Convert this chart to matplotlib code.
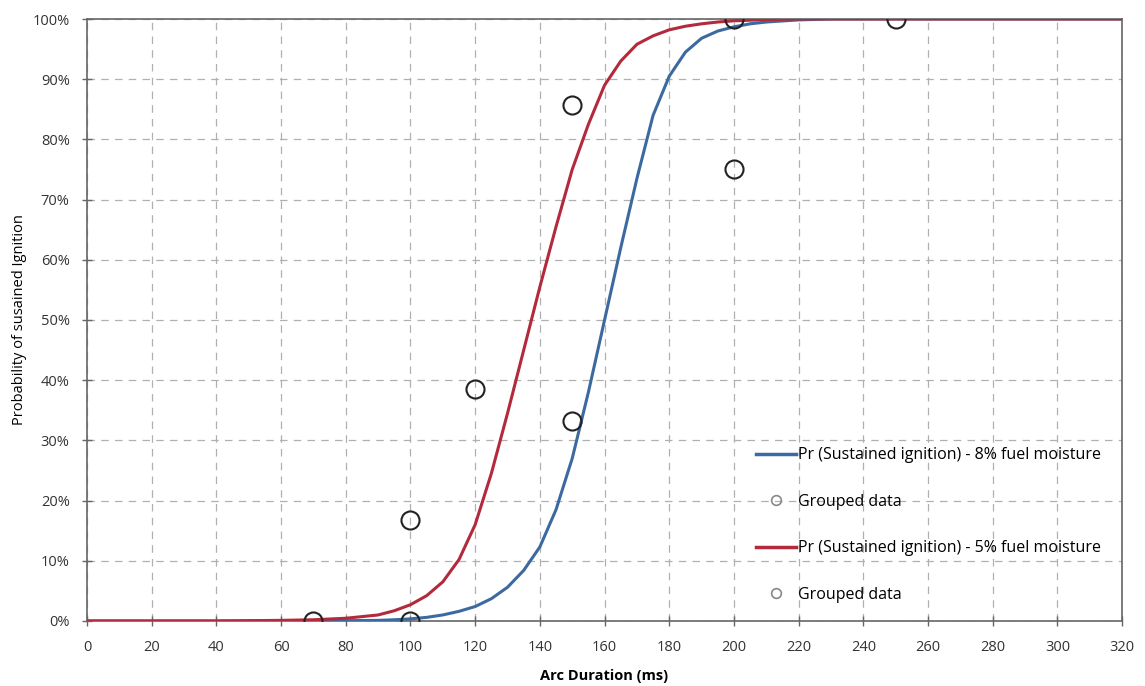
import matplotlib.pyplot as plt
from matplotlib.lines import Line2D
from matplotlib.ticker import MultipleLocator, FuncFormatter

# arc duration (ms) and probabilities (%)
arc_ms = [0, 20, 40, 60, 70, 80, 90, 95, 100, 105, 110, 115, 120, 125, 130, 135,
          140, 145, 150, 155, 160, 165, 170, 175, 180, 185, 190, 195, 200,
          205, 210, 220, 230, 260, 290, 320]
pr_8pct = [0, 0, 0, 0, 0, 0.05, 0.1, 0.2, 0.35, 0.6, 1.0, 1.6, 2.4, 3.7, 5.6, 8.4,
           12.3, 18.5, 27, 38, 50, 62, 73.5, 84, 90.5, 94.5, 96.8, 98, 98.7,
           99.2, 99.5, 99.85, 100, 100, 100, 100]
pr_5pct = [0, 0, 0, 0.1, 0.2, 0.45, 1.0, 1.7, 2.7, 4.2, 6.5, 10.2, 16, 24.5, 34.5, 45,
           55.5, 65.5, 75, 82.5, 89, 93, 95.8, 97.2, 98.2, 98.8, 99.2, 99.5, 99.7,
           99.8, 99.9, 100, 100, 100, 100, 100]

# grouped data points
grp8_x = [100, 150, 200, 250]
grp8_y = [0, 33.3, 75, 100]
grp5_x = [70, 100, 120, 150, 200]
grp5_y = [0, 16.7, 38.5, 85.7, 100]

blue = '#3c6aa0'
red = '#b22a3c'

plt.rcParams['font.family'] = ['Open Sans', 'DejaVu Sans']

fig = plt.figure(figsize=(11.45, 6.86), dpi=100)
ax = fig.add_axes([0.076, 0.0948, 0.904, 0.8775])

ax.plot(arc_ms, pr_8pct, color=blue, lw=2.2, zorder=3, solid_joinstyle='round')
ax.plot(grp8_x, grp8_y, 'o', mfc='none', mec='#222222', ms=13, mew=1.5, zorder=4)
ax.plot(arc_ms, pr_5pct, color=red, lw=2.2, zorder=3, solid_joinstyle='round')
ax.plot(grp5_x, grp5_y, 'o', mfc='none', mec='#222222', ms=13, mew=1.5, zorder=4)

ax.set_xlim(0, 320)
ax.set_ylim(0, 100)
ax.xaxis.set_major_locator(MultipleLocator(20))
ax.yaxis.set_major_locator(MultipleLocator(10))
ax.yaxis.set_major_formatter(FuncFormatter(lambda v, p: f'{v:.0f}%'))
ax.tick_params(direction='inout', length=7, width=1, color='#666666',
               labelsize=10.5, labelcolor='#333333')
ax.tick_params(axis='x', pad=10)
ax.tick_params(axis='y', pad=9)
ax.grid(True, ls=(0, (6, 5)), color='#b0b0b0', lw=0.9)
ax.set_axisbelow(True)
for s in ax.spines.values():
    s.set_color('#666666')
    s.set_linewidth(1.2)

ax.set_xlabel('Arc Duration (ms)', fontsize=10.5, fontweight='bold', labelpad=10)
ax.set_ylabel('Probability of susained Ignition', fontsize=10.5, labelpad=4)

handles = [
    Line2D([], [], color=blue, lw=2.5),
    Line2D([], [], ls='none', marker='o', mfc='none', mec='#888888', ms=7, mew=1.2),
    Line2D([], [], color=red, lw=2.5),
    Line2D([], [], ls='none', marker='o', mfc='none', mec='#888888', ms=7, mew=1.2),
]
labels = ['Pr (Sustained ignition) - 8% fuel moisture', 'Grouped data',
          'Pr (Sustained ignition) - 5% fuel moisture', 'Grouped data']
ax.legend(handles, labels, loc='lower left', bbox_to_anchor=(0.64, 0.02),
          frameon=False, fontsize=11.5, labelspacing=1.9, handlelength=2.5,
          handletextpad=0.15, borderaxespad=0)

fig.savefig('out.png', dpi=100)
